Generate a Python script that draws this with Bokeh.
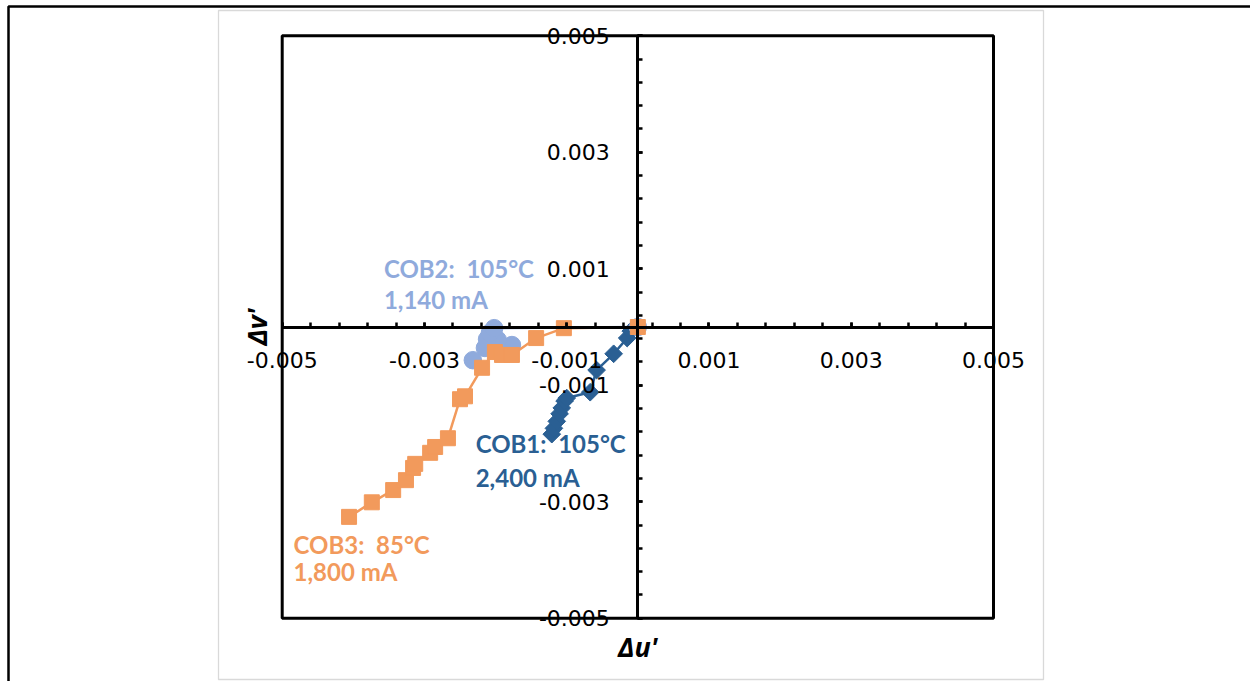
import math
from bokeh.plotting import figure
from bokeh.models import Range1d, FixedTicker, PrintfTickFormatter, Label, BoxAnnotation
from bokeh.embed import file_html
from bokeh.resources import INLINE

# Colour-shift trajectories (delta u', delta v') for three COB packages
cob1_du = [-1.21e-3, -1.18e-3, -1.14e-3, -1.10e-3, -1.07e-3, -1.03e-3, -1.00e-3,
           -0.67e-3, -0.58e-3, -0.34e-3, -0.15e-3, -0.10e-3, 0.0]
cob1_dv = [-1.84e-3, -1.74e-3, -1.62e-3, -1.49e-3, -1.39e-3, -1.27e-3, -1.22e-3,
           -1.12e-3, -0.74e-3, -0.46e-3, -0.19e-3, -0.07e-3, 0.0]

cob2_du = [-2.32e-3, -2.15e-3, -1.77e-3, -1.97e-3, -2.12e-3, -2.08e-3, -2.02e-3, 0.0]
cob2_dv = [-0.57e-3, -0.36e-3, -0.31e-3, -0.22e-3, -0.21e-3, -0.10e-3, -0.02e-3, 0.0]

cob3_du = [-4.06e-3, -3.74e-3, -3.44e-3, -3.26e-3, -3.16e-3, -3.13e-3, -2.92e-3, -2.85e-3,
           -2.67e-3, -2.50e-3, -2.43e-3, -2.19e-3, -2.01e-3, -1.91e-3, -1.77e-3, -1.43e-3,
           -1.04e-3, 0.0]
cob3_dv = [-3.26e-3, -3.01e-3, -2.80e-3, -2.63e-3, -2.42e-3, -2.35e-3, -2.16e-3, -2.06e-3,
           -1.91e-3, -1.24e-3, -1.19e-3, -0.70e-3, -0.43e-3, -0.48e-3, -0.48e-3, -0.19e-3,
           -0.02e-3, 0.0]

NB = "\u00a0"
series_labels = [("COB1:" + NB + " 105\u00b0C", "2,400 mA"),
                 ("COB2:" + NB + " 105\u00b0C", "1,140 mA"),
                 ("COB3:" + NB + " 85\u00b0C", "1,800 mA")]

AX_MIN, AX_MAX = -0.005, 0.005
major_ticks = [-0.005, -0.003, -0.001, 0.001, 0.003, 0.005]
minor_ticks = [round(-0.005 + 0.0004 * k, 4) for k in range(26)]

C1 = "#2A5F93"
C2 = "#8FAADC"
C3 = "#F29A5C"

# canvas size and the pixel box that the +/-0.005 square occupies
W, H = 1250, 681
BOX_L, BOX_R, BOX_T, BOX_B = 281.7, 993.0, 35.3, 617.7
kx = (BOX_R - BOX_L) / (AX_MAX - AX_MIN)
ky = (BOX_B - BOX_T) / (AX_MAX - AX_MIN)
x_range = Range1d(AX_MIN - BOX_L / kx, AX_MAX + (W - BOX_R) / kx)
y_range = Range1d(AX_MIN - (H - BOX_B) / ky, AX_MAX + BOX_T / ky)

p = figure(width=W, height=H, output_backend="svg", toolbar_location=None,
           x_range=x_range, y_range=y_range,
           min_border_left=0, min_border_right=0, min_border_top=0, min_border_bottom=0,
           background_fill_color="white", border_fill_color="white")
p.xgrid.visible = False
p.ygrid.visible = False
p.outline_line_color = None

for ax in (p.xaxis[0], p.yaxis[0]):
    ax.fixed_location = 0
    ax.bounds = (AX_MIN, AX_MAX)
    ax.ticker = FixedTicker(ticks=major_ticks, minor_ticks=minor_ticks)
    ax.formatter = PrintfTickFormatter(format="%.3f")
    ax.axis_line_color = "black"
    ax.axis_line_width = 3
    ax.major_tick_in = 5
    ax.major_tick_out = 0
    ax.minor_tick_in = 5
    ax.minor_tick_out = 0
    ax.major_tick_line_width = 2.5
    ax.minor_tick_line_width = 2.5
    ax.major_tick_line_color = "black"
    ax.minor_tick_line_color = "black"
    ax.major_label_text_font = "DejaVu Sans"
    ax.major_label_text_font_size = "22px"
    ax.major_label_text_color = "black"
p.xaxis.major_label_standoff = 25
p.yaxis.major_label_standoff = 28

# square plot box around the +/-0.005 range
p.add_layout(BoxAnnotation(left=AX_MIN, right=AX_MAX, bottom=AX_MIN, top=AX_MAX,
                           fill_alpha=0, line_color="black", line_alpha=1, line_width=3))

# series: COB1 diamonds, COB2 circles, COB3 squares
p.line(cob1_du, cob1_dv, line_color=C1, line_width=2.5)
p.scatter(cob1_du, cob1_dv, marker="square", angle=math.pi / 4, size=12.5,
          fill_color=C1, line_color=C1)
p.line(cob2_du, cob2_dv, line_color=C2, line_width=2.5)
p.scatter(cob2_du, cob2_dv, marker="circle", size=17.5, fill_color=C2, line_color=C2)
p.line(cob3_du, cob3_dv, line_color=C3, line_width=2.5)
p.scatter(cob3_du, cob3_dv, marker="square", size=15, fill_color=C3, line_color=C3)

# series captions
def caption(x, y1, y2, lines, color):
    for y, t in zip((y1, y2), lines):
        p.add_layout(Label(x=x, y=y, text=t, text_color=color, text_font="Lato",
                           text_font_style="bold", text_font_size="24px",
                           text_align="left", text_baseline="alphabetic"))

caption(-2.28e-3, -2.00e-3, -2.59e-3, series_labels[0], C1)
caption(-3.57e-3, 1.00e-3, 0.48e-3, series_labels[1], C2)
caption(-4.84e-3, -3.74e-3, -4.20e-3, series_labels[2], C3)

# axis titles
p.add_layout(Label(x=0, y=-5.48e-3, text="\u0394u'", text_font="Open Sans",
                   text_font_style="bold italic", text_font_size="27px",
                   text_align="center", text_baseline="alphabetic", text_color="black"))
p.add_layout(Label(x=-5.36e-3, y=0, text="\u0394v'", text_font="Open Sans",
                   text_font_style="bold italic", text_font_size="27px", angle=math.pi / 2,
                   text_align="center", text_baseline="middle", text_color="black"))

# chart-area and page borders (canvas pixels, y measured downward)
p.add_layout(BoxAnnotation(left=218, right=1043, top=10, bottom=679,
                           left_units="canvas", right_units="canvas",
                           top_units="canvas", bottom_units="canvas",
                           fill_alpha=0, line_color="#D9D9D9", line_alpha=1, line_width=1.3))
p.add_layout(BoxAnnotation(left=8, right=1300, top=6, bottom=760,
                           left_units="canvas", right_units="canvas",
                           top_units="canvas", bottom_units="canvas",
                           fill_alpha=0, line_color="black", line_alpha=1, line_width=2.5))

open("out.html", "w").write(file_html(p, INLINE))
